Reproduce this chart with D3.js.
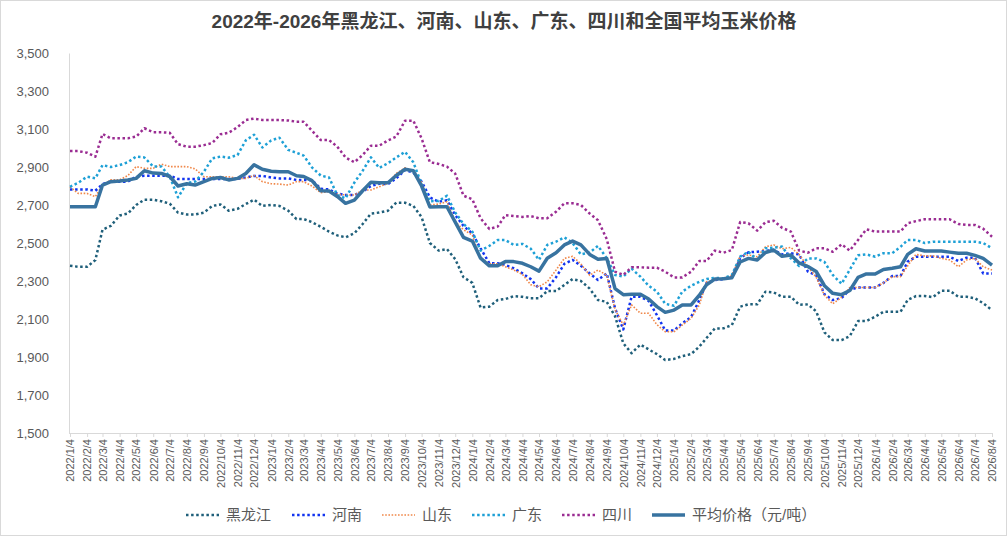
<!DOCTYPE html>
<html>
<head>
<meta charset="utf-8">
<script src="https://cdn.jsdelivr.net/npm/d3@7"></script>
<style>
  body { margin: 0; background: #fff; }
  svg { display: block; font-family: "Liberation Sans", "Noto Sans CJK SC", sans-serif; }
</style>
</head>
<body>
<svg id="chart" width="1008" height="537"></svg>
<script>
// samples every half month, from 2022/1/4 to 2026/8/4
const startDate = new Date(2022, 0, 4);
const sampleCount = 111;

const heilongjiang = [2380,2375,2375,2410,2570,2590,2645,2655,2700,2728,2728,2720,2707,2660,2650,2650,2660,2695,2703,2670,
  2680,2705,2728,2695,2700,2695,2670,2626,2626,2610,2585,2560,2540,2530,2551,2600,2655,2660,2670,2712,
  2712,2695,2636,2500,2460,2468,2415,2320,2290,2160,2165,2200,2205,2220,2217,2209,2209,2247,2247,2279,
  2310,2300,2260,2200,2190,2115,1972,1920,1965,1940,1915,1884,1890,1905,1915,1955,2000,2050,2051,2068,
  2165,2177,2177,2244,2240,2217,2217,2175,2177,2140,2030,1989,1989,2010,2089,2089,2112,2138,2138,2138,
  2200,2221,2221,2215,2249,2249,2217,2217,2209,2183,2147];

const henan = [2782,2782,2782,2775,2810,2823,2823,2823,2849,2854,2854,2854,2854,2837,2837,2837,2837,2837,2837,2837,
  2837,2845,2853,2853,2845,2840,2840,2832,2832,2832,2785,2782,2760,2753,2753,2770,2800,2812,2810,2840,
  2884,2870,2823,2740,2717,2725,2647,2590,2550,2472,2393,2393,2384,2367,2340,2310,2261,2261,2320,2390,
  2411,2380,2340,2305,2340,2156,2045,2217,2217,2195,2120,2040,2040,2077,2110,2200,2290,2305,2310,2320,
  2420,2451,2454,2458,2463,2440,2446,2440,2349,2330,2230,2200,2210,2255,2266,2266,2266,2290,2326,2326,
  2402,2428,2428,2428,2428,2428,2405,2423,2423,2340,2340];

const shandong = [2796,2761,2761,2744,2805,2832,2832,2855,2902,2893,2893,2915,2902,2902,2902,2890,2849,2849,2849,2849,
  2840,2840,2855,2823,2812,2810,2805,2823,2823,2800,2765,2770,2757,2753,2753,2779,2779,2796,2814,2866,
  2896,2879,2820,2700,2705,2717,2612,2570,2542,2420,2390,2390,2375,2358,2335,2280,2270,2296,2358,2419,
  2430,2390,2330,2358,2330,2150,2068,2174,2130,2130,2070,2033,2033,2068,2104,2174,2296,2305,2314,2330,
  2430,2437,2428,2480,2490,2470,2477,2440,2375,2320,2225,2180,2214,2266,2266,2266,2266,2290,2323,2323,
  2380,2440,2432,2432,2419,2411,2375,2411,2419,2375,2358];

const guangdong = [2796,2817,2849,2840,2910,2900,2910,2925,2955,2950,2902,2902,2849,2740,2815,2823,2875,2945,2955,2949,
  2963,3040,3070,3003,3040,3054,2990,2975,2960,2898,2855,2845,2752,2735,2818,2880,2951,2895,2920,2950,
  2980,2925,2810,2720,2721,2749,2661,2600,2560,2460,2485,2516,2516,2490,2495,2470,2411,2490,2507,2530,
  2500,2440,2450,2485,2420,2332,2323,2365,2323,2275,2244,2180,2170,2244,2275,2296,2310,2317,2314,2332,
  2428,2454,2411,2472,2475,2481,2419,2379,2419,2419,2400,2332,2285,2360,2435,2440,2428,2446,2446,2480,
  2516,2516,2500,2507,2507,2507,2507,2507,2507,2500,2472];

const sichuan = [2984,2984,2975,2954,3074,3051,3051,3051,3060,3104,3083,3083,3080,3020,3007,3007,3015,3026,3072,3080,
  3110,3147,3155,3147,3147,3147,3145,3138,3138,3091,3042,3042,3007,2950,2925,2963,3012,3012,3040,3060,
  3144,3144,3050,2925,2916,2902,2865,2749,2730,2630,2574,2586,2647,2642,2637,2642,2630,2630,2665,2709,
  2709,2700,2655,2620,2520,2349,2332,2372,2372,2370,2370,2349,2319,2319,2349,2405,2405,2460,2449,2463,
  2610,2604,2565,2610,2617,2580,2560,2460,2449,2472,2472,2454,2493,2460,2516,2572,2560,2560,2560,2560,
  2604,2615,2625,2625,2625,2625,2600,2595,2595,2575,2533];

const average = [2691,2691,2691,2691,2805,2823,2826,2832,2840,2880,2868,2866,2850,2800,2812,2805,2823,2840,2845,2832,
  2840,2866,2912,2888,2878,2875,2875,2854,2850,2828,2775,2774,2745,2709,2726,2775,2820,2817,2817,2855,
  2888,2880,2800,2690,2691,2691,2610,2530,2510,2420,2380,2380,2402,2402,2393,2375,2352,2420,2449,2490,
  2510,2490,2440,2414,2419,2260,2228,2230,2230,2205,2165,2135,2147,2174,2174,2225,2280,2310,2312,2317,
  2400,2419,2411,2450,2463,2430,2437,2395,2376,2350,2275,2235,2228,2250,2319,2337,2337,2361,2367,2375,
  2440,2470,2458,2458,2458,2452,2446,2446,2435,2419,2384];

const yTicks = [1500, 1700, 1900, 2100, 2300, 2500, 2700, 2900, 3100, 3300, 3500];

const series = [
  { name: "黑龙江", values: heilongjiang, color: "#1f5f7a", width: 2.5, dash: "2.5,2.6" },
  { name: "河南", values: henan, color: "#1234f0", width: 2.5, dash: "2.5,2.6" },
  { name: "山东", values: shandong, color: "#f0884a", width: 1.6, dash: "1.6,1.6" },
  { name: "广东", values: guangdong, color: "#1ea0d6", width: 2.5, dash: "2.5,2.6" },
  { name: "四川", values: sichuan, color: "#9a2c92", width: 2.5, dash: "2.5,2.6" },
  { name: "平均价格（元/吨）", values: average, color: "#3873a0", width: 3.5, dash: null }
];

// sample dates: the 4th and the 19th of every month
const dates = d3.range(sampleCount).map(i =>
  new Date(startDate.getFullYear(), startDate.getMonth() + Math.floor(i / 2), i % 2 ? 19 : 4));

const svg = d3.select("#chart");
const W = 1008, H = 537;
const margin = { top: 53, right: 15, bottom: 104, left: 69 };

svg.append("rect")
  .attr("x", 0.5).attr("y", 0.5)
  .attr("width", W - 2).attr("height", H - 2)
  .attr("fill", "#fff").attr("stroke", "#d9d9d9");

const x = d3.scaleTime()
  .domain([dates[0], dates[dates.length - 1]])
  .range([margin.left + 1, W - margin.right - 1]);

const y = d3.scaleLinear()
  .domain([1500, 3500])
  .range([H - margin.bottom, margin.top]);

// title
svg.append("text")
  .attr("x", 504).attr("y", 28)
  .attr("text-anchor", "middle")
  .attr("font-size", 19).attr("font-weight", "bold")
  .attr("fill", "#404040")
  .text("2022年-2026年黑龙江、河南、山东、广东、四川和全国平均玉米价格");

// y axis
const yAxis = svg.append("g")
  .attr("transform", `translate(${margin.left},0)`)
  .call(d3.axisLeft(y).tickValues(yTicks).tickFormat(d3.format(",")).tickSize(0).tickPadding(20));
yAxis.select(".domain").attr("stroke", "#d9d9d9");
yAxis.selectAll("text").attr("font-size", 13).attr("fill", "#595959");

// x axis, one tick a month
const monthTicks = d3.timeMonth.range(new Date(2022, 0, 1), new Date(2026, 8, 1))
  .map(d => new Date(d.getFullYear(), d.getMonth(), 4));
const xAxis = svg.append("g")
  .attr("transform", `translate(0,${H - margin.bottom})`)
  .call(d3.axisBottom(x).tickValues(monthTicks)
    .tickFormat(d => `${d.getFullYear()}/${d.getMonth() + 1}/${d.getDate()}`)
    .tickSize(4).tickSizeOuter(0));
xAxis.select(".domain").attr("stroke", "#d9d9d9").attr("d", `M${margin.left},0.5H${W - margin.right}`);
xAxis.selectAll(".tick line").attr("stroke", "#d9d9d9");
xAxis.selectAll("text")
  .attr("font-size", 11).attr("fill", "#595959")
  .attr("transform", "rotate(-90)")
  .attr("text-anchor", "end")
  .attr("x", -6).attr("y", 0).attr("dy", "0.35em");

// lines
const line = d3.line()
  .x((d, i) => x(dates[i]))
  .y(d => y(d));

series.forEach(s => {
  svg.append("path")
    .datum(s.values)
    .attr("fill", "none")
    .attr("stroke", s.color)
    .attr("stroke-width", s.width)
    .attr("stroke-dasharray", s.dash)
    .attr("stroke-linejoin", "round")
    .attr("d", line);
});

// legend
const legendX = [186, 292, 382, 472, 562, 652];
const legend = svg.append("g").attr("transform", "translate(0,515)");
series.forEach((s, i) => {
  const g = legend.append("g").attr("transform", `translate(${legendX[i]},0)`);
  g.append("line")
    .attr("x1", 0).attr("x2", 33).attr("y1", 0).attr("y2", 0)
    .attr("stroke", s.color)
    .attr("stroke-width", s.width)
    .attr("stroke-dasharray", s.dash);
  g.append("text")
    .attr("x", 40).attr("y", 0).attr("dy", "0.35em")
    .attr("font-size", 15).attr("fill", "#595959")
    .text(s.name);
});
</script>
</body>
</html>
